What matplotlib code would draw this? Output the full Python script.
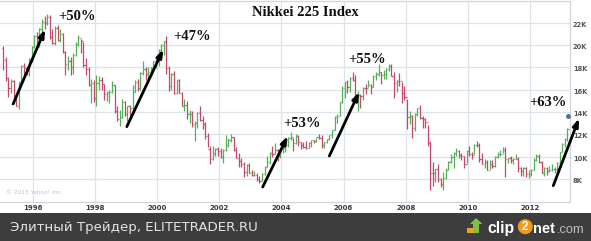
import matplotlib
matplotlib.use('Agg')
import matplotlib.pyplot as plt
from matplotlib.patches import Rectangle, Ellipse, Polygon
from matplotlib.transforms import ScaledTranslation

# ---------------- data: monthly (high, low, close) of the Nikkei 225 ----------------
first_open = 19723
bars_1995 = [(19900, 17785, 18650), (18900, 16800, 17053), (17100, 15380, 16140), (17000, 15700, 16807),
             (16900, 15300, 15437), (15600, 14500, 14517), (16700, 14295, 16678), (18200, 16500, 18117),
             (18400, 17300, 17913), (18100, 17300, 17655), (18800, 17200, 18744), (19900, 18500, 19868)]
bars_1996 = [(20900, 19700, 20813), (21200, 19700, 20125), (21500, 19800, 21407), (22300, 21200, 22041),
             (22600, 21400, 21956), (22750, 21800, 22531), (22700, 20500, 20692), (21400, 20100, 20167),
             (21700, 20000, 21556), (21800, 20400, 20466), (21400, 20300, 21020), (21100, 19300, 19361)]
bars_1997 = [(19450, 17300, 18330), (19000, 17800, 18557), (18900, 17300, 18003), (19300, 17400, 19151),
             (20300, 19000, 20069), (20900, 19900, 20605), (20500, 19300, 20331), (20300, 18000, 18229),
             (18800, 17300, 17888), (18000, 16300, 16459), (17000, 14775, 16636), (16900, 14900, 15259)]
bars_1998 = [(17300, 14500, 16628), (17200, 16000, 16831), (17100, 16000, 16527), (16500, 15100, 15641),
             (15900, 15000, 15671), (16000, 14800, 15830), (16800, 15700, 16379), (16400, 13900, 14108),
             (14500, 13200, 13406), (14200, 12787, 13565), (15200, 13500, 14884), (15000, 13600, 13842)]
bars_1999 = [(14500, 13200, 14499), (14600, 13600, 14368), (16400, 13900, 15837), (16900, 15800, 16702),
             (17000, 15900, 16112), (17600, 16000, 17530), (18600, 17300, 17862), (18000, 16900, 17437),
             (18000, 16800, 17605), (18000, 17200, 17942), (18600, 17800, 18558), (18950, 17900, 18934)]
bars_2000 = [(19600, 18100, 19540), (20100, 19300, 19960), (20400, 19100, 20337), (20833, 17400, 17974),
             (18100, 15900, 16332), (17500, 16000, 17411), (17700, 15600, 15727), (16900, 15600, 16861),
             (17000, 15700, 15747), (15800, 14500, 14539), (15200, 14100, 14649), (15000, 13400, 13785)]
bars_2001 = [(14200, 13000, 13843), (14100, 12700, 12883), (13200, 11433, 12999), (14000, 12600, 13934),
             (14500, 13200, 13262), (13600, 12500, 12969), (13100, 11600, 11860), (12100, 10900, 10713),
             (11000, 9382, 9774), (11000, 9700, 10366), (10800, 10100, 10697), (10900, 10100, 10543)]
bars_2002 = [(10800, 9900, 9997), (10700, 9420, 10587), (11900, 10500, 11025), (11700, 10900, 11492),
             (12000, 11300, 11764), (11800, 10500, 10621), (10900, 9900, 9877), (10300, 9070, 9619),
             (9900, 9070, 9383), (9500, 8200, 8640), (9300, 8300, 9215), (9400, 8500, 8579)]
bars_2003 = [(8800, 8300, 8340), (8700, 8300, 8363), (8500, 7800, 7973), (8300, 7603, 7831),
             (8500, 7800, 8425), (9200, 8400, 9083), (10100, 9100, 9563), (10400, 9300, 10344),
             (11000, 10000, 10219), (11200, 10200, 10560), (10700, 9600, 10101), (10700, 9900, 10677)]
bars_2004 = [(11000, 10300, 10784), (11100, 10400, 11042), (11800, 10900, 11715), (12200, 11500, 11762),
             (11700, 10500, 11236), (12000, 11100, 11858), (11900, 11000, 11326), (11300, 10700, 11082),
             (11300, 10800, 10824), (11400, 10700, 10771), (11300, 10800, 11231), (11500, 10900, 11489)]
bars_2005 = [(11500, 11200, 11388), (11700, 11300, 11741), (12000, 11600, 11668), (11900, 10800, 11009),
             (11300, 10800, 11277), (11600, 11200, 11584), (11900, 11500, 11900), (12400, 11700, 12414),
             (13600, 12400, 13574), (13800, 13000, 13607), (14900, 13600, 14872), (16300, 14800, 16111)]
bars_2006 = [(16700, 15300, 16650), (16900, 15700, 16205), (17100, 15800, 17060), (17600, 16800, 16906),
             (17300, 15400, 15467), (15900, 14050, 15505), (15600, 14400, 15457), (16200, 15100, 16141),
             (16500, 15600, 16128), (16900, 16200, 16399), (16500, 15600, 16274), (17300, 16200, 17226)]
bars_2007 = [(17600, 16900, 17383), (18300, 17200, 17604), (17600, 16500, 17288), (17800, 17000, 17400),
             (17900, 17000, 17876), (18300, 17700, 18138), (18262, 17200, 17249), (17600, 15270, 16569),
             (16900, 15800, 16786), (17500, 16300, 16738), (16700, 14800, 15681), (16300, 15100, 15308)]
bars_2008 = [(15200, 12500, 13592), (14100, 12900, 13603), (13700, 11700, 12526), (13900, 12300, 13850),
             (14400, 13600, 14339), (14600, 13400, 13481), (13600, 12600, 13377), (13500, 12600, 13073),
             (12800, 11000, 11260), (11400, 6995, 8577), (9500, 7400, 8512), (8900, 7700, 8860)]
bars_2009 = [(9300, 7700, 7994), (8100, 7300, 7568), (8600, 7055, 8110), (9000, 8000, 8828),
             (9600, 8800, 9523), (10200, 9400, 9958), (10400, 9000, 10357), (10800, 10100, 10493),
             (10600, 9900, 10133), (10300, 9700, 10035), (10100, 9000, 9346), (10600, 9400, 10546)]
bars_2010 = [(10983, 10100, 10198), (10400, 9800, 10126), (11100, 10200, 11090), (11400, 10900, 11057),
             (11200, 9500, 9769), (10300, 9300, 9383), (9800, 9000, 9537), (9700, 8800, 8824),
             (9700, 8900, 9369), (9700, 9000, 9202), (10100, 9100, 9937), (10400, 9900, 10229)]
bars_2011 = [(10600, 10100, 10238), (10900, 10300, 10624), (10900, 8200, 9755), (9900, 9400, 9850),
             (10100, 9400, 9694), (9900, 9300, 9816), (10200, 9800, 9833), (10000, 8600, 8955),
             (9100, 8300, 8700), (9100, 8300, 8988), (9100, 8200, 8435), (8800, 8100, 8455)]
bars_2012 = [(8900, 8300, 8803), (9900, 8800, 9723), (10250, 9600, 10084), (10200, 9400, 9521),
             (9600, 8500, 8543), (9100, 8240, 9007), (9100, 8400, 8695), (9200, 8600, 8840),
             (9300, 8700, 8870), (9100, 8500, 8928), (9500, 8700, 9446), (10400, 9400, 10395)]
bars_2013 = [(11200, 10400, 11139), (11700, 10900, 11559), (12600, 11400, 12470)]

years = list(range(1995, 2014))
yearly_bars = [bars_1995, bars_1996, bars_1997, bars_1998, bars_1999, bars_2000, bars_2001,
               bars_2002, bars_2003, bars_2004, bars_2005, bars_2006, bars_2007, bars_2008,
               bars_2009, bars_2010, bars_2011, bars_2012, bars_2013]
last_marker = (2013.21, 13650)

y_ticks = [8000, 10000, 12000, 14000, 16000, 18000, 20000, 22000]
y_labels = ['8K', '10K', '12K', '14K', '16K', '18K', '20K', '22K']
x_ticks = [1996, 1998, 2000, 2002, 2004, 2006, 2008, 2010, 2012]
x_labels = ['1996', '1998', '2000', '2002', '2004', '2006', '2008', '2010', '2012']

# rally annotations: label, label position, arrow tail, arrow head (year, index value)
rally_labels = ['+50%', '+47%', '+53%', '+55%', '+63%']
rally_text_pos = [(1997.43, 22556), (2001.12, 20809), (2004.645, 13016), (2006.77, 18704), (2012.565, 14897)]
rally_tail = [(1995.36, 14720), (1999.02, 12685), (2003.395, 7283), (2005.54, 10060), (2012.75, 7400)]
rally_head = [(1996.39, 21409), (2000.195, 19618), (2004.2, 11852), (2006.5, 15793), (2013.58, 13437)]

# ---------------- figure ----------------
W, H = 591, 241
fig = plt.figure(figsize=(W / 100, H / 100), dpi=100)
fig.patch.set_facecolor('white')

def fx(px):
    return px / W

def fy(py):
    return 1 - py / H

ax = fig.add_axes([0, fy(201.5), fx(570), (201.5 - 1) / H])
ax.set_xlim(1994.9375, 2013.289)
ax.set_ylim(5985, 23944)
ax.set_facecolor('white')

grid_col = '#dce3eb'
for t in x_ticks:
    ax.axvline(t, color=grid_col, lw=0.9, zorder=0)
for v in y_ticks:
    ax.axhline(v, color=grid_col, lw=0.9, zorder=0)

times, highs, lows, closes = [], [], [], []
for yr, rows in zip(years, yearly_bars):
    for m, (h, l, c) in enumerate(rows):
        times.append(yr + (m + 0.5) / 12)
        highs.append(h)
        lows.append(l)
        closes.append(c)
opens = [first_open] + closes[:-1]
up_col, down_col = '#55b055', '#c4486a'
cols = [up_col if c >= o else down_col for o, c in zip(opens, closes)]
w = 0.036
ax.vlines(times, lows, highs, colors=cols, lw=0.9, zorder=2)
ax.hlines(opens, [t - w for t in times], times, colors=cols, lw=0.9, zorder=2)
ax.hlines(closes, times, [t + w for t in times], colors=cols, lw=0.9, zorder=2)
ax.plot([last_marker[0]], [last_marker[1]], marker='o', ms=2.5, color='#4a6fa8', zorder=3, clip_on=False)

ax.set_xticks(x_ticks)
ax.set_xticklabels(x_labels, fontsize=5, fontweight='bold', color='#3a3a3a')
ax.yaxis.tick_right()
ax.set_yticks(y_ticks)
ax.set_yticklabels(y_labels, fontsize=4.8, fontweight='bold', color='#555555')
ax.tick_params(axis='both', length=0)
ax.tick_params(axis='x', pad=2.2)
ax.tick_params(axis='y', pad=2)
off = ScaledTranslation(0, -1.5 / 100, fig.dpi_scale_trans)
for lab in ax.get_yticklabels():
    lab.set_transform(lab.get_transform() + off)

ax.spines['left'].set_visible(False)
for s in ['top', 'right', 'bottom']:
    ax.spines[s].set_color('#cfd6de')
    ax.spines[s].set_linewidth(0.9)

# copyright
ax.text(0.01, 0.03, '\u00a9 2013 Yahoo! Inc.', transform=ax.transAxes, fontsize=4.2,
        color='#bcc4cc', va='bottom', ha='left')

# title
fig.text(fx(305), fy(12), 'Nikkei 225 Index', family='Liberation Serif', fontweight='bold',
         fontsize=10.5, ha='center', va='center', color='#111111')

# rally arrows and labels
for lab, tp, tail, head in zip(rally_labels, rally_text_pos, rally_tail, rally_head):
    ax.annotate('', xy=head, xytext=tail,
                arrowprops=dict(arrowstyle='-|>,head_length=0.45,head_width=0.16', lw=2.0,
                                color='black', shrinkA=0, shrinkB=0),
                annotation_clip=False, zorder=5)
    ax.text(tp[0], tp[1], lab, family='Liberation Serif', fontweight='bold', fontsize=10.5,
            ha='center', va='center', color='#111111', zorder=6, clip_on=False)

# bottom dark band
fig.patches.append(Rectangle((0, 0), 1, fy(212.5), transform=fig.transFigure,
                             facecolor='#3d3d3d', edgecolor='none', zorder=0))
fig.text(fx(10), fy(227), 'Элитный Трейдер, ELITETRADER.RU', family='DejaVu Sans',
         fontsize=9.6, color='#e4e4e4', ha='left', va='center')

# clip2net logo
fig.patches.append(Rectangle((fx(467), fy(233)), fx(8.5), 5 / H, transform=fig.transFigure,
                             facecolor='#f0a020', edgecolor='none'))
arrow_pts = [(473, 233), (473, 224), (470, 224), (476, 218), (482.5, 224), (479, 224), (479, 233)]
fig.patches.append(Polygon([(fx(a), fy(b)) for a, b in arrow_pts], closed=True,
                           transform=fig.transFigure, facecolor='#7cc242', edgecolor='none'))
fig.text(fx(487.0), fy(232.7), 'clip', family='Liberation Sans', fontweight='bold', fontsize=11.3,
         color='white', ha='left', va='baseline')
fig.patches.append(Ellipse((fx(525.3), fy(226.7)), 15.0 / W, 15.0 / H, transform=fig.transFigure,
                           facecolor='#f39a1c', edgecolor='none'))
fig.text(fx(525.3), fy(226.7), '2', family='Liberation Sans', fontweight='bold', fontsize=8.5,
         color='white', ha='center', va='center')
fig.text(fx(533.5), fy(232.7), 'net', family='Liberation Sans', fontweight='bold', fontsize=10.5,
         color='white', ha='left', va='baseline')
fig.text(fx(556.5), fy(232.7), '.com', family='Liberation Sans', fontsize=9.3,
         color='#bdbdbd', ha='left', va='baseline')

fig.savefig('out.png', dpi=100)
